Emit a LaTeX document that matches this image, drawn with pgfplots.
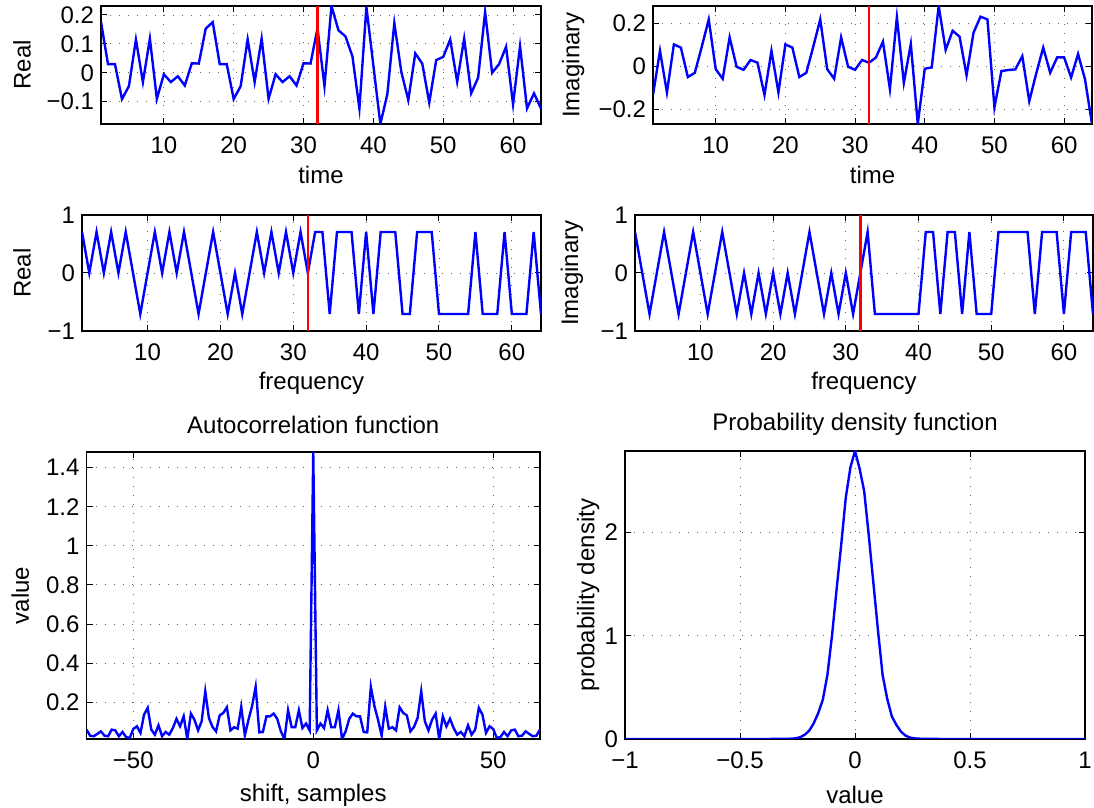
\documentclass[border=0pt]{standalone}
\usepackage{fontspec}
\setmainfont{Liberation Sans}
\usepackage{pgfplots}
\pgfplotsset{compat=1.18}
\definecolor{mblue}{RGB}{0,0,255}
\definecolor{mred}{RGB}{255,0,0}
\pgfplotsset{
  mstyle/.style={
    scale only axis,
    anchor=south west,
    axis line style={line width=0.6pt},
    every tick/.style={black, line width=0.5pt},
    major tick length=3pt,
    tick align=inside,
    grid=major,
    grid style={black!60, line width=0.45pt, dash pattern=on 0.5pt off 4pt},
    /pgf/number format/assume math mode=true,
    tick label style={font=\fontsize{12}{14}\selectfont},
    label style={font=\fontsize{12}{14}\selectfont},
    title style={font=\fontsize{12}{14}\selectfont},
    every axis title shift=0pt,
    xticklabel style={yshift=-3pt},
    clip=true,
  },
  bl/.style={mblue, line width=1.2pt, mark=none},
  rd/.style={mred, line width=1.2pt, mark=none},
}
\begin{document}
\begin{tikzpicture}
\path[use as bounding box] (0pt,0pt) rectangle (547pt,404pt);

% ---------- top left: time, real
\begin{axis}[mstyle, at={(50.5pt,342pt)}, width=220pt, height=59pt,
  xmin=1, xmax=64, ymin=-0.177, ymax=0.231,
  xtick={10,20,30,40,50,60},
  ytick={-0.1,0,0.1,0.2}, yticklabels={−0.1,0,0.1,0.2},
  xlabel={time}, ylabel={Real},
  xlabel style={at={(axis description cs:0.5,-0.432)}, anchor=center},
  ylabel style={at={(axis description cs:-0.1795,0.5)}, anchor=center},
]
\addplot[bl] coordinates {
(1,0.176) (2,0.030) (3,0.030) (4,-0.091) (5,-0.046) (6,0.115) (7,-0.032) (8,0.118)
(9,-0.090) (10,-0.005) (11,-0.032) (12,-0.012) (13,-0.044) (14,0.033) (15,0.032) (16,0.153)
(17,0.175) (18,0.030) (19,0.030) (20,-0.091) (21,-0.046) (22,0.115) (23,-0.032) (24,0.118)
(25,-0.090) (26,-0.005) (27,-0.032) (28,-0.012) (29,-0.044) (30,0.033) (31,0.032) (32,0.153)
(33,-0.046) (34,0.231) (35,0.147) (36,0.126) (37,0.057) (38,-0.123) (39,0.228) (40,0.025)
(41,-0.177) (42,-0.074) (43,0.172) (44,0.003) (45,-0.094) (46,0.067) (47,0.032) (48,-0.103)
(49,0.044) (50,0.055) (51,0.115) (52,-0.031) (53,0.118) (54,-0.071) (55,-0.017) (56,0.210)
(57,0.000) (58,0.030) (59,0.090) (60,-0.109) (61,0.092) (62,-0.123) (63,-0.071) (64,-0.124)
};
\addplot[rd] coordinates {(32,-0.177) (32,0.231)};
\end{axis}

% ---------- top right: time, imaginary
\begin{axis}[mstyle, at={(326.5pt,342pt)}, width=219.5pt, height=59pt,
  xmin=1, xmax=64, ymin=-0.270, ymax=0.283,
  xtick={10,20,30,40,50,60},
  ytick={-0.2,0,0.2}, yticklabels={−0.2,0,0.2},
  xlabel={time}, ylabel={Imaginary},
  xlabel style={at={(axis description cs:0.5,-0.432)}, anchor=center},
  ylabel style={at={(axis description cs:-0.182,0.5)}, anchor=center},
]
\addplot[bl] coordinates {
(1,-0.134) (2,0.073) (3,-0.122) (4,0.103) (5,0.088) (6,-0.050) (7,-0.030) (8,0.092)
(9,0.220) (10,-0.013) (11,-0.058) (12,0.136) (13,-0.002) (14,-0.016) (15,0.030) (16,0.017)
(17,-0.134) (18,0.073) (19,-0.122) (20,0.103) (21,0.088) (22,-0.050) (23,-0.030) (24,0.092)
(25,0.220) (26,-0.013) (27,-0.058) (28,0.136) (29,-0.002) (30,-0.016) (31,0.030) (32,0.017)
(33,0.042) (34,0.116) (35,-0.106) (36,0.230) (37,-0.077) (38,0.105) (39,-0.270) (40,-0.011)
(41,-0.005) (42,0.283) (43,0.077) (44,0.167) (45,0.139) (46,-0.042) (47,0.158) (48,0.233)
(49,0.220) (50,-0.192) (51,-0.022) (52,-0.017) (53,-0.014) (54,0.048) (55,-0.163) (56,-0.033)
(57,0.088) (58,-0.030) (59,0.042) (60,0.042) (61,-0.052) (62,0.058) (63,-0.061) (64,-0.270)
};
\addplot[rd] coordinates {(32,-0.270) (32,0.283)};
\end{axis}

% ---------- middle left: frequency, real
\begin{axis}[mstyle, at={(41pt,238.5pt)}, width=229.5pt, height=58pt,
  xmin=1, xmax=64, ymin=-1, ymax=1,
  xtick={10,20,30,40,50,60},
  ytick={-1,0,1}, yticklabels={−1,0,1},
  xlabel={frequency}, ylabel={Real},
  xlabel style={at={(axis description cs:0.5,-0.448)}, anchor=center},
  ylabel style={at={(axis description cs:-0.1307,0.5)}, anchor=center},
]
\addplot[bl] coordinates {
(1,0.7071) (2,0) (3,0.7071) (4,0) (5,0.7071) (6,0) (7,0.7071) (8,0)
(9,-0.7071) (10,0) (11,0.7071) (12,0) (13,0.7071) (14,0) (15,0.7071) (16,0)
(17,-0.7071) (18,0) (19,0.7071) (20,0) (21,-0.7071) (22,0) (23,-0.7071) (24,0)
(25,0.7071) (26,0) (27,0.7071) (28,0) (29,0.7071) (30,0) (31,0.7071) (32,0)
(33,0.7071) (34,0.7071) (35,-0.7071) (36,0.7071) (37,0.7071) (38,0.7071) (39,-0.7071) (40,0.7071)
(41,-0.7071) (42,0.7071) (43,0.7071) (44,0.7071) (45,-0.7071) (46,-0.7071) (47,0.7071) (48,0.7071)
(49,0.7071) (50,-0.7071) (51,-0.7071) (52,-0.7071) (53,-0.7071) (54,-0.7071) (55,0.7071) (56,-0.7071)
(57,-0.7071) (58,-0.7071) (59,0.7071) (60,-0.7071) (61,-0.7071) (62,-0.7071) (63,0.7071) (64,-0.7071)
};
\addplot[rd] coordinates {(32,-1) (32,1)};
\end{axis}

% ---------- middle right: frequency, imaginary
\begin{axis}[mstyle, at={(317.5pt,238.5pt)}, width=229pt, height=58pt,
  xmin=1, xmax=64, ymin=-1, ymax=1,
  xtick={10,20,30,40,50,60},
  ytick={-1,0,1}, yticklabels={−1,0,1},
  xlabel={frequency}, ylabel={Imaginary},
  xlabel style={at={(axis description cs:0.5,-0.448)}, anchor=center},
  ylabel style={at={(axis description cs:-0.138,0.5)}, anchor=center},
]
\addplot[bl] coordinates {
(1,0.7071) (2,0) (3,-0.7071) (4,0) (5,0.7071) (6,0) (7,-0.7071) (8,0)
(9,0.7071) (10,0) (11,-0.7071) (12,0) (13,0.7071) (14,0) (15,-0.7071) (16,0)
(17,-0.7071) (18,0) (19,-0.7071) (20,0) (21,-0.7071) (22,0) (23,-0.7071) (24,0)
(25,0.7071) (26,0) (27,-0.7071) (28,0) (29,-0.7071) (30,0) (31,-0.7071) (32,0)
(33,0.7071) (34,-0.7071) (35,-0.7071) (36,-0.7071) (37,-0.7071) (38,-0.7071) (39,-0.7071) (40,-0.7071)
(41,0.7071) (42,0.7071) (43,-0.7071) (44,0.7071) (45,0.7071) (46,-0.7071) (47,0.7071) (48,-0.7071)
(49,-0.7071) (50,-0.7071) (51,0.7071) (52,0.7071) (53,0.7071) (54,0.7071) (55,0.7071) (56,-0.7071)
(57,0.7071) (58,0.7071) (59,0.7071) (60,-0.7071) (61,0.7071) (62,0.7071) (63,0.7071) (64,-0.7071)
};
\addplot[rd] coordinates {(32,-1) (32,1)};
\end{axis}

% ---------- bottom left: autocorrelation
\begin{axis}[mstyle, at={(43.25pt,34.5pt)}, width=226.75pt, height=143.5pt,
  xmin=-63, xmax=63, ymin=0.012, ymax=1.48,
  xtick={-50,0,50}, xticklabels={−50,0,50},
  ytick={0.2,0.4,0.6,0.8,1,1.2,1.4}, yticklabels={0.2,0.4,0.6,0.8,1,1.2,1.4},
  xlabel={shift, samples}, ylabel={value},
  title={Autocorrelation function},
  xlabel style={at={(axis description cs:0.5,-0.195)}, anchor=center},
  ylabel style={at={(axis description cs:-0.146,0.5)}, anchor=center},
  title style={at={(axis description cs:0.5,1.094)}, anchor=center},
]
\addplot[bl] coordinates {
(-63,0.060) (-62,0.029) (-61,0.026) (-60,0.038) (-59,0.051) (-58,0.029) (-57,0.026) (-56,0.060)
(-55,0.056) (-54,0.026) (-53,0.048) (-52,0.022) (-51,0.017) (-50,0.063) (-49,0.077) (-48,0.043)
(-47,0.137) (-46,0.171) (-45,0.060) (-44,0.034) (-43,0.082) (-42,0.026) (-41,0.048) (-40,0.034)
(-39,0.068) (-38,0.115) (-37,0.077) (-36,0.128) (-35,0.012) (-34,0.142) (-33,0.110) (-32,0.056)
(-31,0.103) (-30,0.256) (-29,0.120) (-28,0.074) (-27,0.051) (-26,0.133) (-25,0.145) (-24,0.174)
(-23,0.056) (-22,0.072) (-21,0.065) (-20,0.176) (-19,0.030) (-18,0.110) (-17,0.180) (-16,0.279)
(-15,0.046) (-14,0.048) (-13,0.128) (-12,0.128) (-11,0.142) (-10,0.115) (-9,0.051) (-8,0.012)
(-7,0.159) (-6,0.072) (-5,0.072) (-4,0.159) (-3,0.068) (-2,0.091) (-1,0.056)
(0,1.480)
(1,0.056) (2,0.091) (3,0.068) (4,0.159) (5,0.072) (6,0.072) (7,0.159)
(8,0.012) (9,0.051) (10,0.115) (11,0.142) (12,0.128) (13,0.128) (14,0.048) (15,0.046)
(16,0.279) (17,0.180) (18,0.110) (19,0.030) (20,0.176) (21,0.065) (22,0.072) (23,0.056)
(24,0.174) (25,0.145) (26,0.133) (27,0.051) (28,0.074) (29,0.120) (30,0.256) (31,0.103)
(32,0.056) (33,0.110) (34,0.142) (35,0.012) (36,0.128) (37,0.077) (38,0.115) (39,0.068)
(40,0.034) (41,0.048) (42,0.026) (43,0.082) (44,0.034) (45,0.060) (46,0.171) (47,0.137)
(48,0.043) (49,0.077) (50,0.063) (51,0.017) (52,0.022) (53,0.048) (54,0.026) (55,0.056)
(56,0.060) (57,0.026) (58,0.029) (59,0.051) (60,0.038) (61,0.026) (62,0.029) (63,0.060)
};
\end{axis}

% ---------- bottom right: pdf
\begin{axis}[mstyle, at={(312.5pt,34.5pt)}, width=230pt, height=144pt,
  xmin=-1, xmax=1, ymin=0, ymax=2.79,
  xtick={-1,-0.5,0,0.5,1}, xticklabels={−1,−0.5,0,0.5,1},
  ytick={0,1,2}, yticklabels={0,1,2},
  xlabel={value}, ylabel={probability density},
  title={Probability density function},
  xlabel style={at={(axis description cs:0.5,-0.194)}, anchor=center},
  ylabel style={at={(axis description cs:-0.080,0.5)}, anchor=center},
  title style={at={(axis description cs:0.5,1.094)}, anchor=center},
]
\addplot[bl] coordinates {
(-1,0) (-0.6,0) (-0.4,0) (-0.32,0.001) (-0.28,0.003) (-0.26,0.006) (-0.24,0.016)
(-0.22,0.039) (-0.20,0.078) (-0.18,0.150) (-0.16,0.250) (-0.14,0.380) (-0.12,0.620)
(-0.10,1.000) (-0.08,1.450) (-0.06,1.880) (-0.04,2.340) (-0.02,2.630) (0,2.790)
(0.02,2.620) (0.04,2.400) (0.06,1.970) (0.08,1.510) (0.10,1.050) (0.12,0.620)
(0.14,0.390) (0.16,0.220) (0.18,0.136) (0.20,0.071) (0.22,0.032) (0.24,0.013)
(0.26,0.006) (0.28,0.003) (0.32,0.001) (0.4,0) (0.6,0) (1,0)
};
\end{axis}
\end{tikzpicture}
\end{document}
